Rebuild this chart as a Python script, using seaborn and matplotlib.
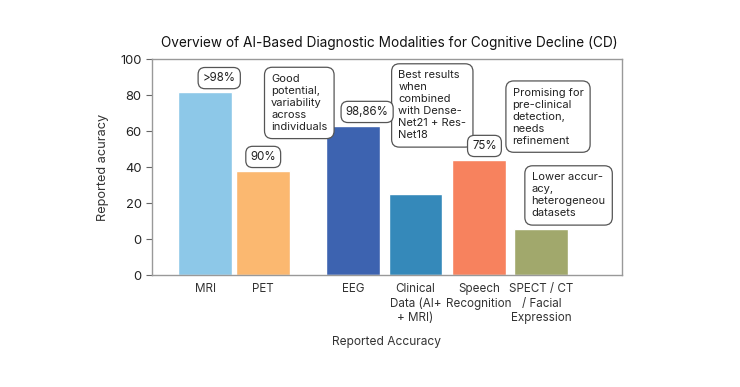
import matplotlib
matplotlib.use("Agg")
import matplotlib.pyplot as plt
import seaborn as sns
import pandas as pd

modalities = ["MRI", "PET", "EEG", "Clinical\nData (AI+\n+ MRI)", "Speech\nRecognition",
              "SPECT / CT\n/ Facial\nExpression"]
# bar heights measured from the axis floor (the lower "0" tick)
accuracy = [101.5, 57.6, 83, 45, 64, 25.4]
colors = ["#8DC8E8", "#FBB870", "#3D63B0", "#3589BA", "#F7825E", "#A1A86C"]
slots = [0, 0.95, 2.42, 3.44, 4.48, 5.5]

ytick_values = [0, 20, 40, 60, 80, 100, 120]
ytick_labels = ["0", "0", "20", "40", "60", "80", "100"]

# short value tags and longer comment boxes: (text, x, y)
value_tags = [
    (">98%", 0.23, 109.4),
    ("90%", 0.95, 65.6),
    ("98,86%", 2.65, 90.6),
    ("75%", 4.57, 71.7),
]
comments = [
    ("Good\npotential,\nvariability\nacross\nindividuals", 1.08, 95.6),
    ("Best results\nwhen\ncombined\nwith Dense-\nNet21 + Res-\nNet18", 3.16, 94.2),
    ("Promising for\npre-clinical\ndetection,\nneeds\nrefinement", 5.03, 88.0),
    ("Lower accur-\nacy,\nheterogeneou\ndatasets", 5.34, 44.2),
]

sns.set_style("ticks")
plt.rcParams["font.family"] = ["Inter", "DejaVu Sans"]

df = pd.DataFrame({"slot": slots, "acc": accuracy, "mod": modalities})

fig = plt.figure(figsize=(7.4, 3.87), dpi=100)
ax = fig.add_axes([0.2054, 0.2894, 0.6351, 0.5581])
sns.barplot(data=df, x="slot", y="acc", hue="mod", palette=colors, native_scale=True,
            dodge=False, width=0.88 / 0.95, saturation=1, legend=False, ax=ax)

ax.set_xlim(-0.87, 6.82)
ax.set_ylim(0, 120)
ax.set_xticks(slots)
ax.set_xticklabels(modalities, fontsize=8.4, color="#333333", linespacing=1.25)
ax.set_yticks(ytick_values)
ax.set_yticklabels(ytick_labels, fontsize=9.3, color="#222222")
ax.tick_params(axis="x", length=0, pad=6)
ax.tick_params(axis="y", length=4, color="#666666")
for s in ax.spines.values():
    s.set_visible(True)
    s.set_color("#999999")
    s.set_linewidth(1.0)

ax.set_xlabel("Reported Accuracy", fontsize=8.6, color="#333333", labelpad=9)
ax.set_ylabel("Reported acuracy", fontsize=9.2, color="#333333", labelpad=8)
fig.text(0.526, 0.89, "Overview of AI-Based Diagnostic Modalities for Cognitive Decline (CD)",
         ha="center", va="center", fontsize=9.8, color="#111111")

for txt, x, y in comments:
    ax.text(x, y, txt, ha="left", va="center", fontsize=8, color="#222222", linespacing=1.25,
            zorder=4,
            bbox=dict(boxstyle="round,pad=0.6,rounding_size=0.7", fc="white", ec="#555555", lw=0.9))
for txt, x, y in value_tags:
    ax.text(x, y, txt, ha="center", va="center", fontsize=8.3, color="#222222", zorder=5,
            bbox=dict(boxstyle="round,pad=0.4,rounding_size=0.6", fc="white", ec="#555555", lw=0.9))

fig.savefig("out.png", dpi=100)
